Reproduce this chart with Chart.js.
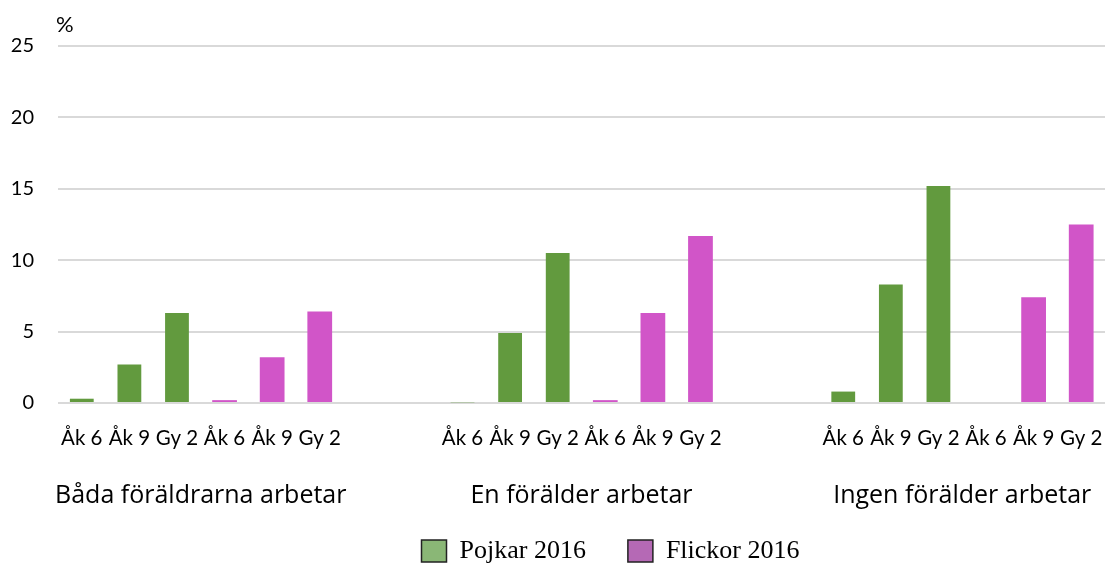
<!DOCTYPE html>
<html>
<head>
<meta charset="utf-8">
<script src="https://cdn.jsdelivr.net/npm/chart.js@4.4.1/dist/chart.umd.min.js"></script>
<style>
  html, body { margin: 0; padding: 0; background: #ffffff; }
  #wrap { width: 1108px; height: 569px; position: relative; }
</style>
</head>
<body>
<div id="wrap"><canvas id="c" width="1108" height="569"></canvas></div>
<script>
// ---- data ----
const groups = ["Båda föräldrarna arbetar", "En förälder arbetar", "Ingen förälder arbetar"];
const grades = ["Åk 6", "Åk 9", "Gy 2"];
const pojkar2016 = [0.3, 2.7, 6.3, 0.05, 4.9, 10.5, 0.8, 8.3, 15.2];
const flickor2016 = [0.2, 3.2, 6.4, 0.2, 6.3, 11.7, 0.0, 7.4, 12.5];
const yTicks = [0, 5, 10, 15, 20, 25];
const seriesNames = ["Pojkar 2016", "Flickor 2016"];

// ---- build category slots: per group 3 boys + 3 girls, then 2 empty slots (not after last) ----
const labels = [];
const boys = [];
const girls = [];
groups.forEach((g, gi) => {
  grades.forEach((gr, k) => { labels.push(gr); boys.push(pojkar2016[gi * 3 + k]); girls.push(null); });
  grades.forEach((gr, k) => { labels.push(gr); boys.push(null); girls.push(flickor2016[gi * 3 + k]); });
  if (gi < groups.length - 1) { labels.push(""); labels.push(""); boys.push(null, null); girls.push(null, null); }
});
// group axis: one category per pair of slots; group label sits on pair covering slots 2-3 of each group
const groupAxisLabels = [];
for (let p = 0; p < labels.length / 2; p++) {
  const gi = groups.findIndex((g, i) => i * 4 + 1 === p);
  groupAxisLabels.push(gi >= 0 ? groups[gi] : "");
}

const pctPlugin = {
  id: 'pct',
  beforeLayout(chart) {
    const lg = chart.legend;
    if (lg && !lg._patched) {
      const orig = lg.fit.bind(lg);
      lg.fit = function () { orig(); this.height = 48; };
      lg._patched = true;
    }
  },
  afterLayout(chart) {
    const lg = chart.legend;
    if (lg) {
      lg.top -= 25;
      lg.left += 58; lg.right += 58;
    }
  },
  afterDraw(chart) {
    const ctx = chart.ctx;
    ctx.save();
    ctx.font = '22px Lato';
    ctx.fillStyle = '#000';
    ctx.textAlign = 'left';
    ctx.textBaseline = 'middle';
    ctx.fillText('%', chart.chartArea.left - 2, 25);
    ctx.restore();
  }
};

const noPad = (axis) => { axis.paddingLeft = 0; axis.paddingRight = 0; };

new Chart(document.getElementById('c'), {
  type: 'bar',
  data: {
    labels: labels,
    datasets: [
      { label: seriesNames[0], data: boys, backgroundColor: '#629a3e', grouped: false,
        categoryPercentage: 1.0, barPercentage: 0.5, legendFill: '#8ab776' },
      { label: seriesNames[1], data: girls, backgroundColor: '#d155c8', grouped: false,
        categoryPercentage: 1.0, barPercentage: 0.52, legendFill: '#b569b5' }
    ]
  },
  options: {
    responsive: false,
    animation: false,
    layout: { padding: { top: 46, right: 3, left: 0, bottom: 0 } },
    plugins: {
      title: { display: false },
      tooltip: { enabled: false },
      legend: {
        display: true,
        position: 'bottom',
        labels: {
          font: { family: 'Liberation Serif', size: 26 },
          color: '#000',
          boxWidth: 25,
          boxHeight: 22,
          padding: 42,
          generateLabels(chart) {
            return chart.data.datasets.map((ds, i) => ({
              text: ds.label,
              fillStyle: ds.legendFill,
              strokeStyle: '#222',
              lineWidth: 1.5,
              hidden: false,
              datasetIndex: i,
              fontColor: '#000'
            }));
          }
        }
      }
    },
    scales: {
      y: {
        min: 0, max: 25,
        afterBuildTicks(axis) { axis.ticks = yTicks.map(v => ({ value: v })); },
        afterFit(axis) { axis.width = 58; },
        ticks: { font: { family: 'Lato', size: 20 }, color: '#000', padding: 24 },
        grid: { color: '#d9d9d9', lineWidth: 2, drawTicks: false },
        border: { display: false }
      },
      x: {
        type: 'category',
        position: 'bottom',
        weight: 0,
        offset: true,
        afterFit(axis) { axis.height = 48; noPad(axis); },
        ticks: { font: { family: 'Lato', size: 20.5 }, color: '#000', padding: 15, autoSkip: false, maxRotation: 0, minRotation: 0 },
        grid: { display: false },
        border: { display: false }
      },
      x2: {
        type: 'category',
        position: 'bottom',
        weight: 1,
        offset: true,
        labels: groupAxisLabels,
        afterFit(axis) { axis.height = 70; noPad(axis); },
        ticks: { font: { family: 'Open Sans', size: 25 }, color: '#000', padding: 22, autoSkip: false, maxRotation: 0, minRotation: 0 },
        grid: { display: false },
        border: { display: false }
      }
    }
  },
  plugins: [pctPlugin]
});
</script>
</body>
</html>
